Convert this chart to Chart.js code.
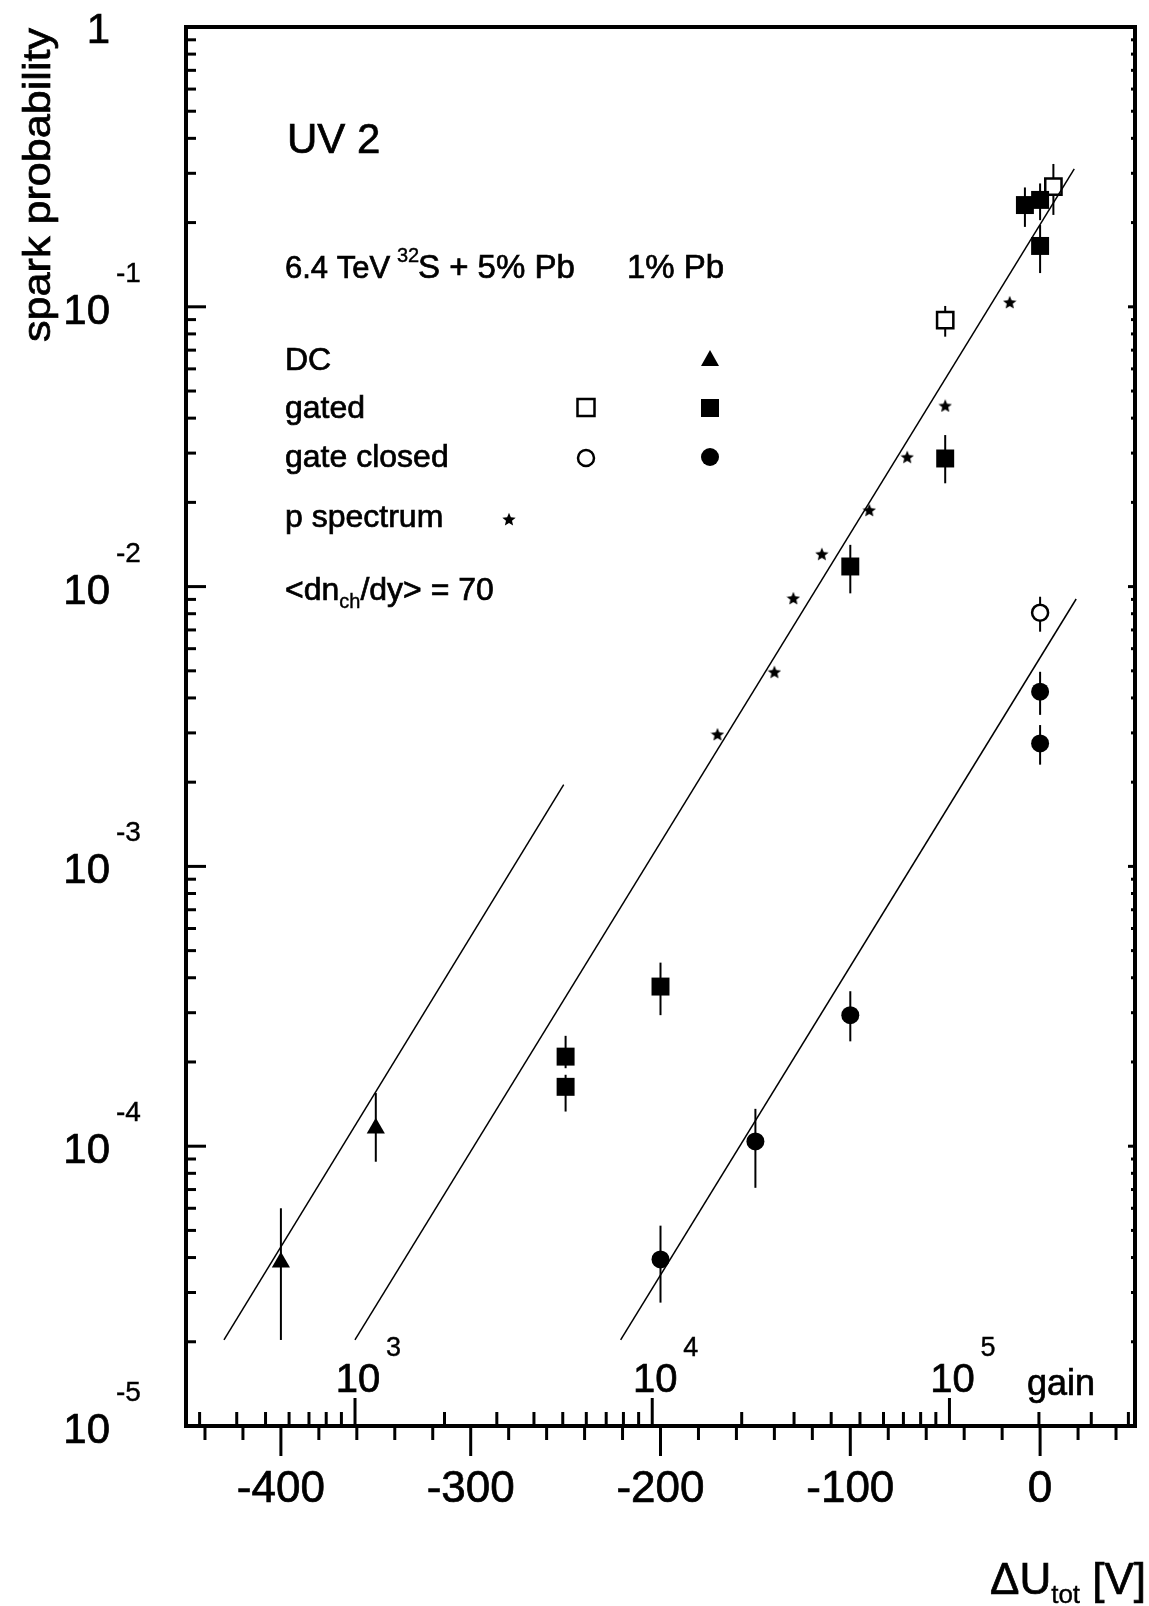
<!DOCTYPE html>
<html>
<head>
<meta charset="utf-8">
<script src="https://cdn.jsdelivr.net/npm/chart.js@4.4.0/dist/chart.umd.min.js"></script>
<style>
  html, body { margin: 0; padding: 0; background: #fff; }
  #wrap { width: 1149px; height: 1606px; position: relative; }
</style>
</head>
<body>
<div id="wrap"><canvas id="sparkChart"></canvas></div>
<script>
// ---- data ----
const dcVolt = [-400, -350];
const dcProb = [3.85e-5, 1.16e-4];
const dcLow  = [2.03e-5, 8.8e-5];
const dcHigh = [6.0e-5, 1.55e-4];

const gatedVolt = [-250, -250, -200, -100, -50, 0, -8, 0];
const gatedProb = [2.09e-4, 1.63e-4, 3.72e-4, 1.18e-2, 2.87e-2, 0.165, 0.231, 0.241];
const gatedLow  = [1.9e-4, 1.33e-4, 2.94e-4, 9.46e-3, 2.34e-2, 0.132, 0.193, 0.204];
const gatedHigh = [2.48e-4, 1.8e-4, 4.53e-4, 1.41e-2, 3.48e-2, 0.196, 0.267, 0.276];

const gatedOpenVolt = [-50, 7];
const gatedOpenProb = [0.0897, 0.269];
const gatedOpenLow  = [0.0782, 0.213];
const gatedOpenHigh = [0.1007, 0.324];

const closedVolt = [0, 0, -100, -150, -200];
const closedProb = [4.21e-3, 2.75e-3, 2.94e-4, 1.04e-4, 3.94e-5];
const closedLow  = [3.48e-3, 2.31e-3, 2.37e-4, 7.1e-5, 2.76e-5];
const closedHigh = [4.96e-3, 3.2e-3, 3.58e-4, 1.36e-4, 5.2e-5];

const closedOpenVolt = [0];
const closedOpenProb = [8.07e-3];
const closedOpenLow  = [6.9e-3];
const closedOpenHigh = [9.2e-3];

const pSpecVolt = [-16, -50, -70, -90, -115, -130, -140, -170];
const pSpecProb = [0.104, 0.0444, 0.0291, 0.0188, 0.0131, 0.0091, 0.00496, 0.00297];

// straight fits (end points)
const fitDcVolt = [-430, -251];
const fitDcProb = [2.03e-5, 1.96e-3];
const fitGatedVolt = [-361, 18];
const fitGatedProb = [2.03e-5, 0.311];
const fitClosedVolt = [-221, 19];
const fitClosedProb = [2.03e-5, 9.03e-3];

// axes
const voltMin = -450, voltMax = 50;
const voltTicks = [-400, -300, -200, -100, 0];
const probExps = [0, -1, -2, -3, -4, -5];
const gainMin = 270, gainMax = 421000;
const gainExps = [3, 4, 5];

const FONT = '"Liberation Sans", Arial, Helvetica, sans-serif';

function pts(xs, ys) {
  return xs.map((v, i) => ({ x: v, y: ys[i] }));
}

function makeStar(size) {
  const c = document.createElement('canvas');
  c.width = size; c.height = size;
  const g = c.getContext('2d');
  const cx = size / 2, cy = size / 2 + size * 0.06, R = size / 2, r = R * 0.45;
  g.beginPath();
  for (let k = 0; k < 10; k++) {
    const a = -Math.PI / 2 + k * Math.PI / 5;
    const rr = k % 2 ? r : R;
    g.lineTo(cx + rr * Math.cos(a), cy + rr * Math.sin(a));
  }
  g.closePath();
  g.fillStyle = '#000';
  g.fill();
  return c;
}
const starImg = makeStar(14);

// error bars drawn under the markers
const errorBars = {
  id: 'errorBars',
  beforeDatasetsDraw(chart) {
    const { ctx, scales: { x, y } } = chart;
    ctx.save();
    ctx.strokeStyle = '#000';
    ctx.lineWidth = 2;
    chart.data.datasets.forEach((ds) => {
      if (!ds.errLow) return;
      ds.data.forEach((p, i) => {
        const px = x.getPixelForValue(p.x);
        ctx.beginPath();
        ctx.moveTo(px, y.getPixelForValue(ds.errLow[i]));
        ctx.lineTo(px, y.getPixelForValue(ds.errHigh[i]));
        ctx.stroke();
      });
    });
    ctx.restore();
  }
};

// text with a thin outline so it looks as heavy as the scanned print
function text(ctx, s, x, y, size, align) {
  ctx.font = size + 'px ' + FONT;
  ctx.textAlign = align || 'left';
  ctx.lineWidth = size > 30 ? 0.7 : 0.4;
  ctx.fillText(s, x, y);
  ctx.strokeText(s, x, y);
  return ctx.measureText(s).width;
}

function tick(ctx, x1, y1, x2, y2) {
  ctx.beginPath();
  ctx.moveTo(x1, y1);
  ctx.lineTo(x2, y2);
  ctx.stroke();
}

// frame, inward/outward ticks, labels, annotations
const frameAndText = {
  id: 'frameAndText',
  afterDraw(chart) {
    const { ctx, chartArea: a, scales: { x, y, gain } } = chart;
    ctx.save();
    ctx.fillStyle = '#000';
    ctx.strokeStyle = '#000';
    ctx.textBaseline = 'alphabetic';

    // frame
    ctx.lineWidth = 4;
    ctx.strokeRect(a.left, a.top, a.right - a.left, a.bottom - a.top);

    // y ticks (left inward, right inward short)
    ctx.lineWidth = 3;
    probExps.forEach((e) => {
      const py = y.getPixelForValue(Math.pow(10, e));
      tick(ctx, a.left, py, a.left + 20, py);
      tick(ctx, a.right, py, a.right - 7, py);
      if (e > -5) {
        for (let m = 2; m <= 9; m++) {
          const my = y.getPixelForValue(m * Math.pow(10, e - 1));
          tick(ctx, a.left, my, a.left + 10, my);
          tick(ctx, a.right, my, a.right - 4, my);
        }
      }
    });

    // voltage ticks, below the axis
    for (let v = -440; v <= 40; v += 20) {
      const px = x.getPixelForValue(v);
      const major = voltTicks.includes(v);
      tick(ctx, px, a.bottom, px, a.bottom + (major ? 30 : 14));
    }

    // gain ticks, above the axis
    for (let e = 2; e <= 5; e++) {
      for (let m = 1; m <= 9; m++) {
        const g = m * Math.pow(10, e);
        if (g < gainMin || g > gainMax) continue;
        const px = gain.getPixelForValue(g);
        tick(ctx, px, a.bottom, px, a.bottom - (m === 1 ? 28 : 14));
      }
    }

    // y labels
    probExps.forEach((e) => {
      const py = y.getPixelForValue(Math.pow(10, e));
      if (e === 0) {
        text(ctx, '1', 110, py + 16, 42, 'right');
      } else {
        text(ctx, '10', 110, py + 17, 42, 'right');
        text(ctx, String(e), 116, py - 25, 28, 'left');
      }
    });

    // voltage labels
    voltTicks.forEach((v) => {
      text(ctx, String(v), x.getPixelForValue(v), a.bottom + 76, 44, 'center');
    });

    // gain labels
    gainExps.forEach((e) => {
      const px = gain.getPixelForValue(Math.pow(10, e));
      text(ctx, '10', px + 3, a.bottom - 34, 40, 'center');
      text(ctx, String(e), px + 31, a.bottom - 70, 27, 'left');
    });
    text(ctx, 'gain', 1027, a.bottom - 31, 36, 'left');

    // x title
    const w1 = text(ctx, '\u0394U', 990, 1594, 44);
    text(ctx, 'tot', 990 + w1, 1603, 26);
    text(ctx, '[V]', 1146, 1594, 44, 'right');

    // y title
    ctx.save();
    ctx.translate(50, 342);
    ctx.rotate(-Math.PI / 2);
    ctx.font = '38px ' + FONT;
    const tw = ctx.measureText('spark probability').width;
    ctx.scale(314 / tw, 1);
    ctx.textAlign = 'left';
    ctx.lineWidth = 0.7;
    ctx.fillText('spark probability', 0, 0);
    ctx.strokeText('spark probability', 0, 0);
    ctx.restore();

    // annotations
    text(ctx, 'UV 2', 287, 153, 42);
    text(ctx, '6.4 TeV', 285, 278, 31);
    text(ctx, '32', 397, 262, 20);
    text(ctx, 'S + 5% Pb', 418, 278, 33);
    text(ctx, '1% Pb', 627, 278, 33);

    text(ctx, 'DC', 285, 370, 32);
    text(ctx, 'gated', 285, 418, 32);
    text(ctx, 'gate closed', 285, 467, 32);
    text(ctx, 'p spectrum', 285, 527, 32);
    const w = text(ctx, '<dn', 285, 600, 32);
    const w4 = text(ctx, 'ch', 285 + w, 608, 20);
    text(ctx, '/dy> = 70', 285 + w + w4, 600, 32);

    // legend symbols
    ctx.lineWidth = 2.5;
    ctx.beginPath();
    ctx.moveTo(710, 350); ctx.lineTo(719, 366); ctx.lineTo(701, 366);
    ctx.closePath(); ctx.fill();
    ctx.strokeRect(577.5, 399, 17, 17);
    ctx.fillRect(701, 399, 18, 18);
    ctx.beginPath(); ctx.arc(586, 458, 8, 0, Math.PI * 2); ctx.stroke();
    ctx.beginPath(); ctx.arc(710, 457, 9, 0, Math.PI * 2); ctx.fill();
    ctx.drawImage(starImg, 509 - 7, 519 - 7);

    ctx.restore();
  }
};

const lineStyle = {
  showLine: true, borderColor: '#000', borderWidth: 1.5,
  pointRadius: 0, pointHoverRadius: 0, fill: false
};

new Chart(document.getElementById('sparkChart'), {
  type: 'scatter',
  data: {
    datasets: [
      Object.assign({ label: 'fit DC', data: pts(fitDcVolt, fitDcProb) }, lineStyle),
      Object.assign({ label: 'fit gated', data: pts(fitGatedVolt, fitGatedProb) }, lineStyle),
      Object.assign({ label: 'fit gate closed', data: pts(fitClosedVolt, fitClosedProb) }, lineStyle),
      {
        label: 'DC', data: pts(dcVolt, dcProb), errLow: dcLow, errHigh: dcHigh,
        pointStyle: 'triangle', pointRadius: 10.5, backgroundColor: '#000', borderColor: '#000', borderWidth: 0
      },
      {
        label: 'gated', data: pts(gatedVolt, gatedProb), errLow: gatedLow, errHigh: gatedHigh,
        pointStyle: 'rect', pointRadius: 12.7, backgroundColor: '#000', borderColor: '#000', borderWidth: 0
      },
      {
        label: 'gated open', data: pts(gatedOpenVolt, gatedOpenProb), errLow: gatedOpenLow, errHigh: gatedOpenHigh,
        pointStyle: 'rect', pointRadius: 11.5, backgroundColor: '#fff', borderColor: '#000', borderWidth: 2.5
      },
      {
        label: 'gate closed', data: pts(closedVolt, closedProb), errLow: closedLow, errHigh: closedHigh,
        pointStyle: 'circle', pointRadius: 9, backgroundColor: '#000', borderColor: '#000', borderWidth: 0
      },
      {
        label: 'gate closed open', data: pts(closedOpenVolt, closedOpenProb), errLow: closedOpenLow, errHigh: closedOpenHigh,
        pointStyle: 'circle', pointRadius: 8, backgroundColor: '#fff', borderColor: '#000', borderWidth: 2.5
      },
      {
        label: 'p spectrum', data: pts(pSpecVolt, pSpecProb),
        pointStyle: starImg, pointRadius: 7
      }
    ]
  },
  options: {
    responsive: true,
    maintainAspectRatio: false,
    animation: false,
    devicePixelRatio: 1,
    layout: { padding: { left: 186, right: 9, top: 27, bottom: 180 } },
    plugins: { legend: { display: false }, tooltip: { enabled: false } },
    scales: {
      x: { type: 'linear', min: voltMin, max: voltMax, display: false },
      y: { type: 'logarithmic', min: 1e-5, max: 1, display: false },
      gain: { type: 'logarithmic', axis: 'x', position: 'bottom', min: gainMin, max: gainMax, display: false }
    }
  },
  plugins: [errorBars, frameAndText]
});
</script>
</body>
</html>
